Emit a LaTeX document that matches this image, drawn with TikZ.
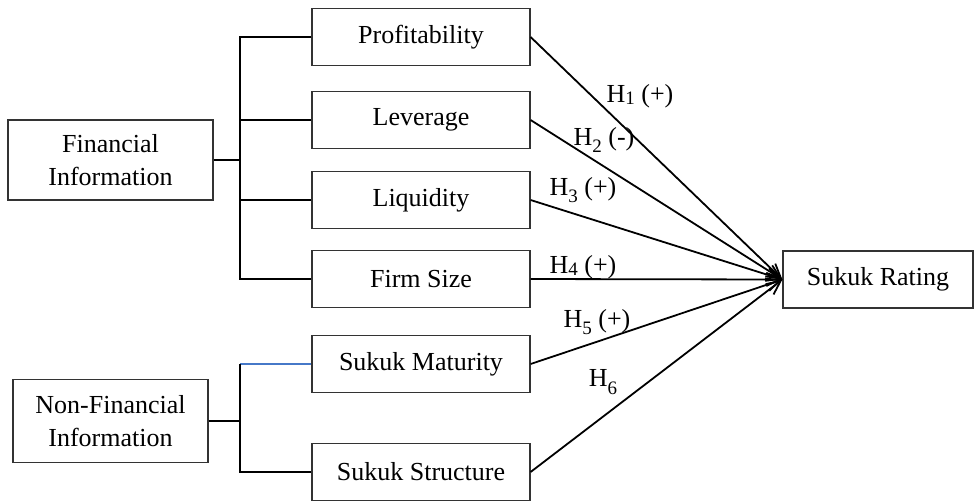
\documentclass[tikz,border=0pt]{standalone}
\usepackage{fontspec}
\setmainfont{Liberation Serif}
\usetikzlibrary{arrows.meta}

% hypothesis label, subscript set low or only slightly lowered
\newcommand{\hlow}[1]{H\raisebox{-0.65ex}{\fontsize{9.5}{9.5}\selectfont #1}}
\newcommand{\hup}[1]{H\raisebox{-0.15ex}{\fontsize{9.5}{9.5}\selectfont #1}}

\tikzset{
    varbox/.style={draw=black!80, line width=0.6pt, inner sep=0pt, align=center,
        minimum width=109pt, minimum height=28.5pt},
    groupbox/.style={varbox, minimum width=#1},
    link/.style={line width=0.9pt},
    hyp/.style={->, line width=0.9pt},
    hyplabel/.style={inner sep=0pt},
}

\begin{document}
\begin{tikzpicture}[x=0.5pt, y=-0.5pt, font=\fontsize{13}{16.5}\selectfont,
    >={Straight Barb[length=7pt, width=6.5pt, line width=0.9pt]}]
    \useasboundingbox (0,0) rectangle (975,500);

    % --- bracket bars ---
    \def\barX{240}    % x of both vertical bars

    % --- group boxes ---
    \node[groupbox=102.5pt, minimum height=40pt] (fin) at (110.5,160) {Financial\\Information};
    \node[groupbox=97.5pt, minimum height=41.5pt] (nonfin) at (110.5,421) {Non-Financial\\Information};

    % --- variable boxes ---
    \node[varbox] (prof)  at (421,37)  {Profitability};
    \node[varbox] (lev)   at (421,120) {Leverage};
    \node[varbox] (liq)   at (421,200) {Liquidity};
    \node[varbox] (size)  at (421,279) {Firm Size};
    \node[varbox] (mat)   at (421,364) {Sukuk Maturity};
    \node[varbox] (struc) at (421,472) {Sukuk Structure};

    % --- dependent variable ---
    \node[varbox, minimum width=95pt] (rating) at (878,279.5) {Sukuk Rating};

    \coordinate (fbar) at (\barX,0);

    % financial bracket
    \draw[link] (prof.west) -- (prof.west -| fbar) |- (size.west);
    \draw[link] (lev.west) -- (lev.west -| fbar);
    \draw[link] (liq.west) -- (liq.west -| fbar);
    \draw[link] (fin.east) -- (fin.east -| fbar);

    % non-financial bracket (top branch in blue)
    \draw[link, line width=0.7pt, color={rgb,255:red,70;green,120;blue,200}] (mat.west) -- (mat.west -| fbar);
    \draw[link] (mat.west -| fbar) |- (struc.west);
    \draw[link] (nonfin.east) -- (nonfin.east -| fbar);

    % --- hypotheses ---
    \draw[hyp] (prof.east)  -- (rating.west);
    \draw[hyp] (lev.east)   -- (rating.west);
    \draw[hyp] (liq.east)   -- (rating.west);
    \draw[hyp] (size.east)  -- (rating.west);
    \draw[hyp] (mat.east)   -- (rating.west);
    \draw[hyp] (struc.east) -- (rating.west);

    \node[hyplabel] (h1) at (640,96)  {\hup{1} (+)};
    \node[hyplabel] (h2) at (604,140) {\hlow{2} (-)};
    \node[hyplabel] (h3) at (583,190) {\hlow{3} (+)};
    \node[hyplabel] (h4) at (583,267) {\hup{4} (+)};
    \node[hyplabel] (h5) at (597,322) {\hlow{5} (+)};
    \node[hyplabel] (h6) at (603,382) {\hlow{6}};

\end{tikzpicture}
\end{document}
